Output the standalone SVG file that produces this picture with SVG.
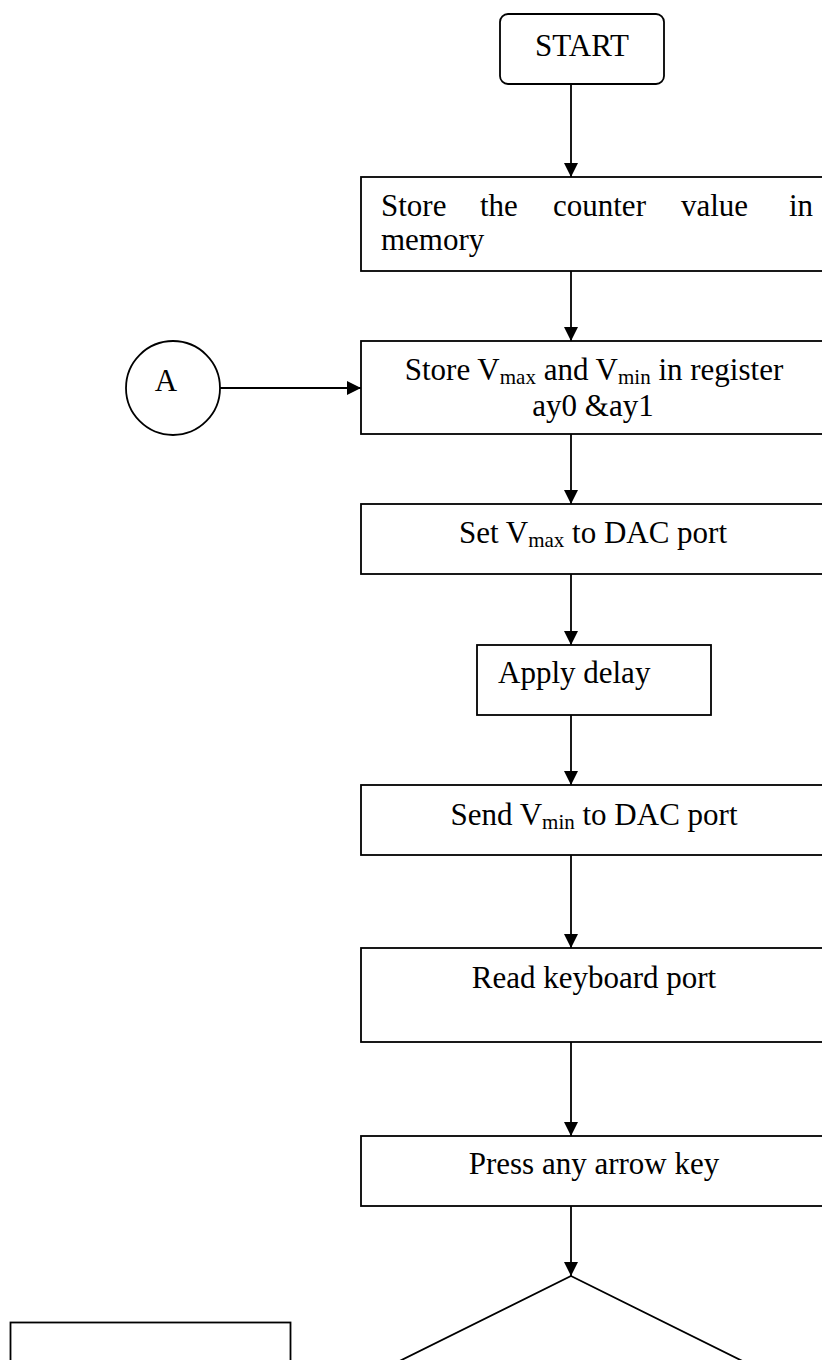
<svg xmlns="http://www.w3.org/2000/svg" width="822" height="1360" viewBox="0 0 822 1360">
  <style>
    .shape { fill: #ffffff; stroke: #000000; stroke-width: 1.8; }
    .flow { fill: none; stroke: #000000; stroke-width: 1.8; marker-end: url(#arrow); }
    .label { font-family: "Liberation Serif", "Times New Roman", serif; font-size: 31px; fill: #000000; }
    .mid { text-anchor: middle; }
    .sub { font-size: 21px; }
  </style>
  <defs>
    <marker id="arrow" markerUnits="userSpaceOnUse" markerWidth="15" markerHeight="15" refX="14" refY="7" orient="auto">
      <path d="M0,0 L14,7 L0,14 z" fill="#000000"/>
    </marker>
  </defs>

  <rect width="822" height="1360" fill="#ffffff"/>

  <!-- connectors -->
  <g id="connectors">
    <line class="flow" x1="571" y1="84" x2="571" y2="177"/>
    <line class="flow" x1="571" y1="271" x2="571" y2="341"/>
    <line class="flow" x1="220" y1="388" x2="361" y2="388"/>
    <line class="flow" x1="571" y1="434" x2="571" y2="504"/>
    <line class="flow" x1="571" y1="574" x2="571" y2="645"/>
    <line class="flow" x1="571" y1="715" x2="571" y2="785"/>
    <line class="flow" x1="571" y1="855" x2="571" y2="948"/>
    <line class="flow" x1="571" y1="1042" x2="571" y2="1136"/>
    <line class="flow" x1="571" y1="1206" x2="571" y2="1276"/>
  </g>

  <!-- start terminal -->
  <g id="start">
    <rect class="shape" x="500" y="14" width="164" height="70" rx="8" ry="8"/>
    <text class="label mid" x="582" y="56">START</text>
  </g>

  <!-- store counter -->
  <g id="store-counter">
    <rect class="shape" x="361" y="177" width="480" height="94"/>
    <text class="label" y="216">
      <tspan x="381">Store</tspan><tspan x="480">the</tspan><tspan x="553">counter</tspan><tspan x="681">value</tspan><tspan x="789">in</tspan>
    </text>
    <text class="label" x="381" y="250">memory</text>
  </g>

  <!-- connector circle A -->
  <g id="connector-a">
    <circle class="shape" cx="173" cy="388" r="47"/>
    <text class="label mid" x="166" y="391">A</text>
  </g>

  <!-- store limits -->
  <g id="store-limits">
    <rect class="shape" x="361" y="341" width="480" height="93"/>
    <text class="label mid" x="594" y="380">Store V<tspan class="sub" dy="4">max</tspan><tspan dy="-4"> and V</tspan><tspan class="sub" dy="4">min</tspan><tspan dy="-4"> in register</tspan></text>
    <text class="label mid" x="593" y="416">ay0 &amp;ay1</text>
  </g>

  <!-- set vmax -->
  <g id="set-vmax">
    <rect class="shape" x="361" y="504" width="480" height="70"/>
    <text class="label mid" x="593" y="543">Set V<tspan class="sub" dy="4">max</tspan><tspan dy="-4"> to DAC port</tspan></text>
  </g>

  <!-- delay -->
  <g id="apply-delay">
    <rect class="shape" x="477" y="645" width="234" height="70"/>
    <text class="label" x="498" y="683">Apply delay</text>
  </g>

  <!-- send vmin -->
  <g id="send-vmin">
    <rect class="shape" x="361" y="785" width="480" height="70"/>
    <text class="label mid" x="594" y="825">Send V<tspan class="sub" dy="4">min</tspan><tspan dy="-4"> to DAC port</tspan></text>
  </g>

  <!-- read keyboard -->
  <g id="read-keyboard">
    <rect class="shape" x="361" y="948" width="480" height="94"/>
    <text class="label mid" x="594" y="988">Read keyboard port</text>
  </g>

  <!-- press key -->
  <g id="press-key">
    <rect class="shape" x="361" y="1136" width="480" height="70"/>
    <text class="label mid" x="594" y="1174">Press any arrow key</text>
  </g>

  <!-- decision -->
  <g id="decision">
    <polygon class="shape" points="571,1276 813,1396 571,1516 329,1396"/>
  </g>

  <!-- lower-left process -->
  <g id="lower-box">
    <rect class="shape" x="10.5" y="1322.5" width="280" height="100"/>
  </g>
</svg>
